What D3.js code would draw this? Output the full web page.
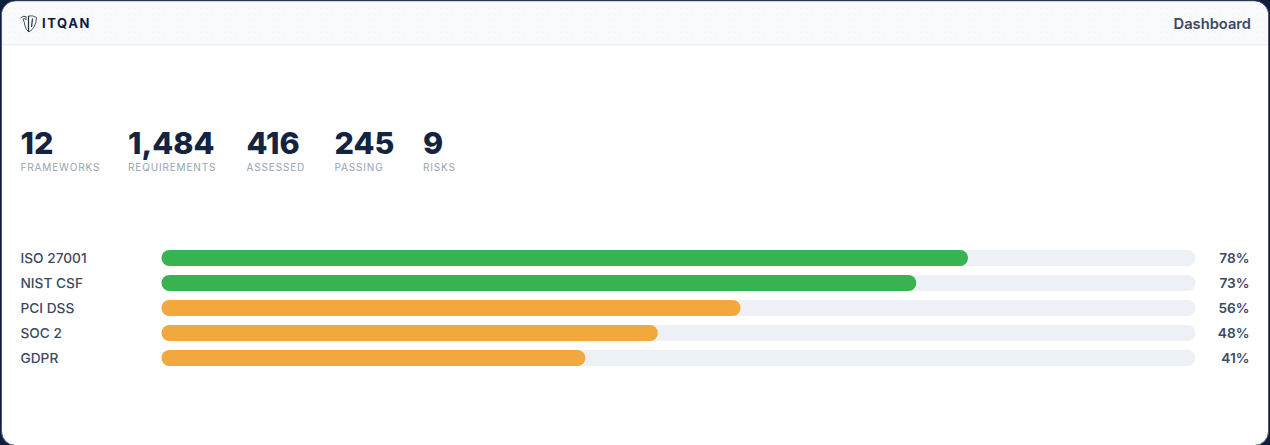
<!DOCTYPE html>
<html><head><meta charset="utf-8">
<script src="https://cdn.jsdelivr.net/npm/d3@7/dist/d3.min.js"></script>
<style>html,body{margin:0;padding:0;background:#0f1f3d;overflow:hidden}svg{display:block}text{font-family:Inter,"Noto Sans",sans-serif}</style>
</head><body><svg id="c" width="1270" height="445"></svg>
<script>
const statValues = ["12","1,484","416","245","9"];
const statLabels = ["FRAMEWORKS","REQUIREMENTS","ASSESSED","PASSING","RISKS"];
const frameworks = ["ISO 27001","NIST CSF","PCI DSS","SOC 2","GDPR"];
const scores = [78,73,56,48,41];
const tiers = ["high","high","mid","mid","mid"];
const brand = "ITQAN";
const pageTitle = "Dashboard";

const svg = d3.select("#c");
const W = 1270, H = 445;
const defs = svg.append("defs");
const pat = defs.append("pattern").attr("id","dots").attr("width",6).attr("height",6).attr("patternUnits","userSpaceOnUse");
pat.append("rect").attr("x",2).attr("y",2).attr("width",1).attr("height",1).attr("fill","#eef1f6");
defs.append("clipPath").attr("id","card").append("rect").attr("x",2).attr("y",1.5).attr("width",W-4).attr("height",H-1).attr("rx",14);

svg.append("rect").attr("width",W).attr("height",H).attr("fill","#0f1f3d");
svg.append("rect").attr("x",1.5).attr("y",1).attr("width",W-3).attr("height",H-0.5).attr("rx",14).attr("fill","#fff").attr("stroke","#4a556b").attr("stroke-width",1);
const card = svg.append("g").attr("clip-path","url(#card)");
card.append("rect").attr("width",W).attr("height",44).attr("fill","#f8fafc");
card.append("rect").attr("width",W).attr("height",44).attr("fill","url(#dots)");
card.append("rect").attr("y",44).attr("width",W).attr("height",1.5).attr("fill","#edf1f6");

// logo
const logo = svg.append("g").attr("transform","translate(20,15)").attr("fill","none").attr("stroke","#4a5568").attr("stroke-width",1);
logo.append("path").attr("d","M0.5 3 Q3 0.5 6 1.5 L6 5 Q5 3 3 4 Q4.5 7 5 11 Q6 15 9 17 Q16 13 16.5 2.5 Q12.5 0 8.5 1");
logo.append("path").attr("d","M8.5 1 V17 M12.5 3.5 L11.5 12").attr("stroke","#1f2c45").attr("stroke-width",1.2);

svg.append("text").attr("x",42).attr("y",28).attr("font-size",13).attr("font-weight",700).attr("letter-spacing",1.6).attr("fill","#0f1f3d").text(brand);
svg.append("text").attr("x",1251).attr("y",29).attr("text-anchor","end").attr("font-size",14.7).attr("font-weight",600).attr("fill","#3b4963").text(pageTitle);

// stats
const statX = d3.scaleOrdinal().domain(statLabels).range([20.5,128,246.5,334.5,423]);
const stat = svg.append("g").selectAll("g").data(statLabels).join("g").attr("transform",d=>`translate(${statX(d)},0)`);
stat.append("text").attr("y",153.7).attr("font-size",30.5).attr("font-weight",800).attr("fill","#14233f").text((d,i)=>statValues[i]);
stat.append("text").attr("y",171).attr("font-size",10).attr("font-weight",400).attr("letter-spacing",0.85).attr("fill","#94a3b0").text(d=>d);

// bars
const x = d3.scaleLinear().domain([0,100]).range([161.5,1195.5]);
const y = d3.scaleBand().domain(frameworks).range([245.5,370.5]).paddingInner(9/25).paddingOuter(4.5/25);
const colour = d3.scaleOrdinal().domain(["high","mid"]).range(["#38b34f","#f2a83c"]);
const row = svg.append("g").selectAll("g").data(frameworks).join("g");
const bh = y.bandwidth();
row.append("rect").attr("x",x(0)).attr("y",d=>y(d)).attr("width",x(100)-x(0)).attr("height",bh).attr("rx",bh/2).attr("fill","#edf1f6");
row.append("rect").attr("x",x(0)).attr("y",d=>y(d)).attr("width",(d,i)=>x(scores[i])-x(0)).attr("height",bh).attr("rx",bh/2).attr("fill",(d,i)=>colour(tiers[i]));
row.append("text").attr("x",20.5).attr("y",d=>y(d)+bh/2+5).attr("font-size",13.7).attr("font-weight",500).attr("fill","#3b4963").text(d=>d);
row.append("text").attr("x",1249.5).attr("y",d=>y(d)+bh/2+5).attr("text-anchor","end").attr("font-size",13.7).attr("font-weight",600).attr("fill","#3b4963").text((d,i)=>scores[i]+"%");
</script></body></html>
